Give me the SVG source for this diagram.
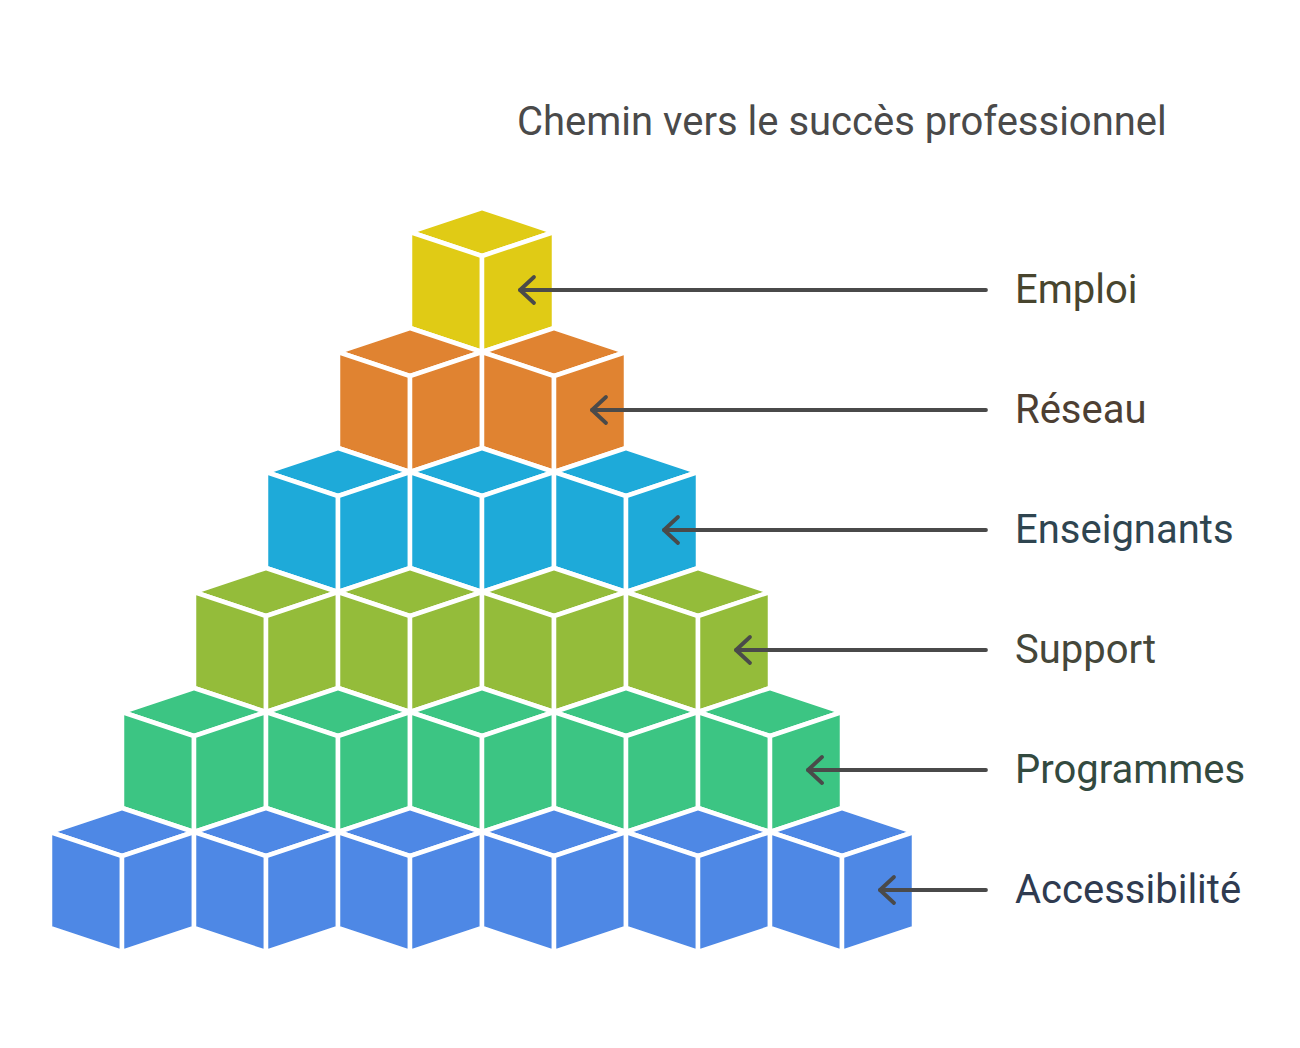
<svg xmlns="http://www.w3.org/2000/svg" xmlns:xlink="http://www.w3.org/1999/xlink" width="1300" height="1048" viewBox="0 0 1300 1048">
<style>
  .face { stroke: #ffffff; stroke-width: 4.5; stroke-linejoin: miter; }
  .lbl { font-family: Roboto, "Liberation Sans", sans-serif; font-size: 40px; }
  .title { font-family: Roboto, "Liberation Sans", sans-serif; font-size: 40px; fill: #4a4a4a; }
  .conn { stroke: #4a4a4a; stroke-width: 3.8; fill: none; stroke-linecap: round; stroke-linejoin: round; }
  .yellow { fill: #E0CB15; }
  .orange { fill: #E08331; }
  .cyan { fill: #1EAAD9; }
  .olive { fill: #94BC3A; }
  .green { fill: #3CC583; }
  .blue { fill: #4E88E5; }
</style>
<defs>
  <g id="cube">
    <path class="face" d="M0,0 L72,24 L0,48 L-72,24 Z"/>
    <path class="face" d="M-72,24 L0,48 L0,144 L-72,120 Z"/>
    <path class="face" d="M72,24 L0,48 L0,144 L72,120 Z"/>
  </g>
  <marker id="chev" viewBox="-18 -16 22 32" refX="0" refY="0" markerWidth="22" markerHeight="32" markerUnits="userSpaceOnUse" orient="auto">
    <path d="M-14,-13 L0,0 L-14,13" stroke="#4a4a4a" stroke-width="3.8" fill="none" stroke-linecap="round" stroke-linejoin="round"/>
  </marker>
</defs>
<rect width="1300" height="1048" fill="#ffffff"/>
<text class="title" x="517" y="135">Chemin vers le succès professionnel</text>

<g id="emploi" class="yellow">
  <use xlink:href="#cube" x="482" y="208"/>
  <text class="lbl" x="1015" y="303" style="fill:#48452E">Emploi</text>
</g>
<g id="reseau" class="orange">
  <use xlink:href="#cube" x="410" y="328"/>
  <use xlink:href="#cube" x="554" y="328"/>
  <text class="lbl" x="1015" y="423" style="fill:#4D3F33">Réseau</text>
</g>
<g id="enseignants" class="cyan">
  <use xlink:href="#cube" x="338" y="448"/>
  <use xlink:href="#cube" x="482" y="448"/>
  <use xlink:href="#cube" x="626" y="448"/>
  <text class="lbl" x="1015" y="543" style="fill:#2F4550">Enseignants</text>
</g>
<g id="support" class="olive">
  <use xlink:href="#cube" x="266" y="568"/>
  <use xlink:href="#cube" x="410" y="568"/>
  <use xlink:href="#cube" x="554" y="568"/>
  <use xlink:href="#cube" x="698" y="568"/>
  <text class="lbl" x="1015" y="663" style="fill:#45473A">Support</text>
</g>
<g id="programmes" class="green">
  <use xlink:href="#cube" x="194" y="688"/>
  <use xlink:href="#cube" x="338" y="688"/>
  <use xlink:href="#cube" x="482" y="688"/>
  <use xlink:href="#cube" x="626" y="688"/>
  <use xlink:href="#cube" x="770" y="688"/>
  <text class="lbl" x="1015" y="783" style="fill:#334A3F">Programmes</text>
</g>
<g id="accessibilite" class="blue">
  <use xlink:href="#cube" x="122" y="808"/>
  <use xlink:href="#cube" x="266" y="808"/>
  <use xlink:href="#cube" x="410" y="808"/>
  <use xlink:href="#cube" x="554" y="808"/>
  <use xlink:href="#cube" x="698" y="808"/>
  <use xlink:href="#cube" x="842" y="808"/>
  <text class="lbl" x="1015" y="903" style="fill:#2F3B50">Accessibilité</text>
</g>

<g id="connectors">
  <path class="conn" d="M986,290 L520,290" marker-end="url(#chev)"/>
  <path class="conn" d="M986,410 L592,410" marker-end="url(#chev)"/>
  <path class="conn" d="M986,530 L664,530" marker-end="url(#chev)"/>
  <path class="conn" d="M986,650 L736,650" marker-end="url(#chev)"/>
  <path class="conn" d="M986,770 L808,770" marker-end="url(#chev)"/>
  <path class="conn" d="M986,890 L880,890" marker-end="url(#chev)"/>
</g>
</svg>
